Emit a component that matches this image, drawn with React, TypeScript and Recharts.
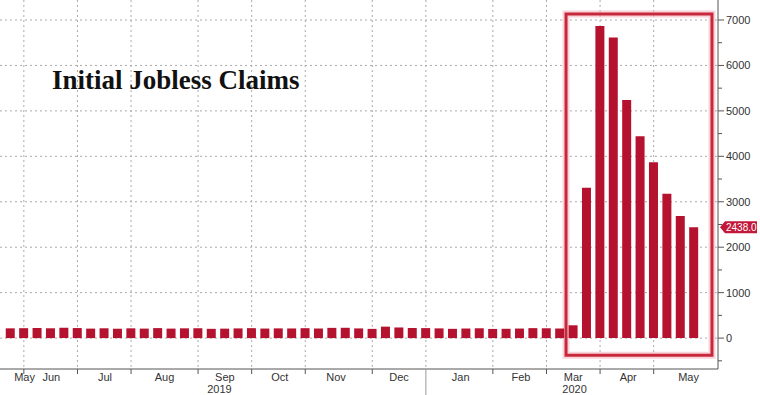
import { Bar, BarChart, CartesianGrid, ReferenceArea, XAxis, YAxis } from "recharts";

// weekly initial jobless claims (thousands), week ending 2019-05-25 .. 2020-05-16
const weeks = [
  "2019-05-25", "2019-06-01", "2019-06-08", "2019-06-15", "2019-06-22", "2019-06-29",
  "2019-07-06", "2019-07-13", "2019-07-20", "2019-07-27", "2019-08-03", "2019-08-10",
  "2019-08-17", "2019-08-24", "2019-08-31", "2019-09-07", "2019-09-14", "2019-09-21",
  "2019-09-28", "2019-10-05", "2019-10-12", "2019-10-19", "2019-10-26", "2019-11-02",
  "2019-11-09", "2019-11-16", "2019-11-23", "2019-11-30", "2019-12-07", "2019-12-14",
  "2019-12-21", "2019-12-28", "2020-01-04", "2020-01-11", "2020-01-18", "2020-01-25",
  "2020-02-01", "2020-02-08", "2020-02-15", "2020-02-22", "2020-02-29", "2020-03-07",
  "2020-03-14", "2020-03-21", "2020-03-28", "2020-04-04", "2020-04-11", "2020-04-18",
  "2020-04-25", "2020-05-02", "2020-05-09", "2020-05-16",
];
const claims = [
  215, 218, 222, 216, 227, 221, 209, 216, 206, 215, 209, 220,
  209, 215, 217, 204, 208, 213, 219, 210, 214, 212, 218, 211,
  225, 227, 213, 203, 252, 234, 222, 220, 214, 204, 211, 216,
  202, 205, 210, 219, 216, 211, 282, 3307, 6867, 6615, 5237, 4442,
  3867, 3176, 2687, 2438,
];

// month boundaries (bar index) and label positions along the index axis
const monthTicks = [1, 5, 9, 14, 18, 22, 27, 31, 36, 40, 44, 48];
const yearSplit = 31;
const monthLabels = ["May", "Jun", "Jul", "Aug", "Sep", "Oct", "Nov", "Dec", "Jan", "Feb", "Mar", "Apr", "May"];
const monthLabelPos = [1.05, 3.05, 7.05, 11.5, 16.0, 20.1, 24.3, 29.0, 33.6, 38.1, 42.0, 46.1, 50.6];
const yearLabels = ["2019", "2020"];
const yearLabelPos = [15.6, 42.1];

const yMajor = [0, 1000, 2000, 3000, 4000, 5000, 6000, 7000];
const yMinor = [-500, 500, 1500, 2500, 3500, 4500, 5500, 6500];

const lastValue = claims[claims.length - 1];
const data = weeks.map((week, i) => ({ i, week, claims: claims[i] }));

const RED = "#b5122f";
const TXT = "#333";

function XTick(props: any) {
  const { x, y, payload } = props;
  const v = payload.value;
  const mi = monthLabelPos.indexOf(v);
  const yi = yearLabelPos.indexOf(v);
  if (mi >= 0) {
    return (
      <text x={x} y={y + 12} textAnchor="middle" fontSize={11} fill={TXT} fontFamily="Liberation Sans, Arial, sans-serif">
        {monthLabels[mi]}
      </text>
    );
  }
  if (yi >= 0) {
    return (
      <text x={x} y={y + 24} textAnchor="middle" fontSize={11} fill={TXT} fontFamily="Liberation Sans, Arial, sans-serif">
        {yearLabels[yi]}
      </text>
    );
  }
  if (v === yearSplit) {
    return <line x1={x} x2={x} y1={y} y2={y + 26} stroke="#999" strokeWidth={1} />;
  }
  return <line x1={x} x2={x} y1={y} y2={y + 5} stroke="#555" strokeWidth={1} />;
}

function YTick(props: any) {
  const { x, y, payload } = props;
  const v = payload.value;
  if (v === lastValue) {
    return (
      <g>
        <polygon points={`${x + 2},${y} ${x + 7},${y - 6} ${x + 39},${y - 6} ${x + 39},${y + 6} ${x + 7},${y + 6}`} fill="#c2183a" />
        <text x={x + 8} y={y} dominantBaseline="central" fontSize={10} fill="#fff" fontFamily="Liberation Sans, Arial, sans-serif">
          {v.toFixed(1)}
        </text>
      </g>
    );
  }
  const major = yMajor.includes(v);
  return (
    <g>
      <line x1={x} x2={x + (major ? 6 : 4)} y1={y} y2={y} stroke="#555" strokeWidth={1} />
      {major && (
        <text x={x + 8} y={y} dominantBaseline="central" fontSize={11} fill={TXT} fontFamily="Liberation Sans, Arial, sans-serif">
          {v}
        </text>
      )}
    </g>
  );
}

export default function App() {
  return (
    <div style={{ position: "absolute", left: 0, top: 0, width: 760, height: 395, background: "#fff" }}>
      <BarChart width={760} height={395} data={data} margin={{ top: 0, right: 0, bottom: 0, left: 0 }}>
        <CartesianGrid
          horizontalValues={yMajor}
          verticalValues={monthTicks}
          stroke="#aaa"
          strokeDasharray="2 3"
        />
        <XAxis
          dataKey="i"
          type="number"
          domain={[-0.78, 52.8]}
          allowDataOverflow
          ticks={[...monthTicks, ...monthLabelPos, ...yearLabelPos]}
          interval={0}
          height={26}
          tickSize={0}
          tickMargin={0}
          tickLine={false}
          axisLine={{ stroke: "#555" }}
          tick={<XTick />}
        />
        <YAxis
          orientation="right"
          width={42}
          domain={[-680, 7440]}
          allowDataOverflow
          ticks={[...yMinor, ...yMajor, lastValue]}
          interval={0}
          tickSize={0}
          tickMargin={0}
          tickLine={false}
          axisLine={{ stroke: "#555" }}
          tick={<YTick />}
        />
        <Bar dataKey="claims" fill={RED} barSize={9} isAnimationActive={false} />
        <ReferenceArea x1={41.46} x2={52.35} y1={-375} y2={7130} fill="none" stroke="#f4b6bf" strokeWidth={7} strokeOpacity={0.6} />
        <ReferenceArea x1={41.46} x2={52.35} y1={-375} y2={7130} fill="none" stroke="#c8283c" strokeWidth={3} strokeOpacity={1} />
      </BarChart>
      <div
        style={{
          position: "absolute",
          left: 52,
          top: 65,
          fontFamily: "Liberation Serif, DejaVu Serif, serif",
          fontWeight: "bold",
          fontSize: 27,
          color: "#111",
          whiteSpace: "nowrap",
        }}
      >
        Initial Jobless Claims
      </div>
    </div>
  );
}
